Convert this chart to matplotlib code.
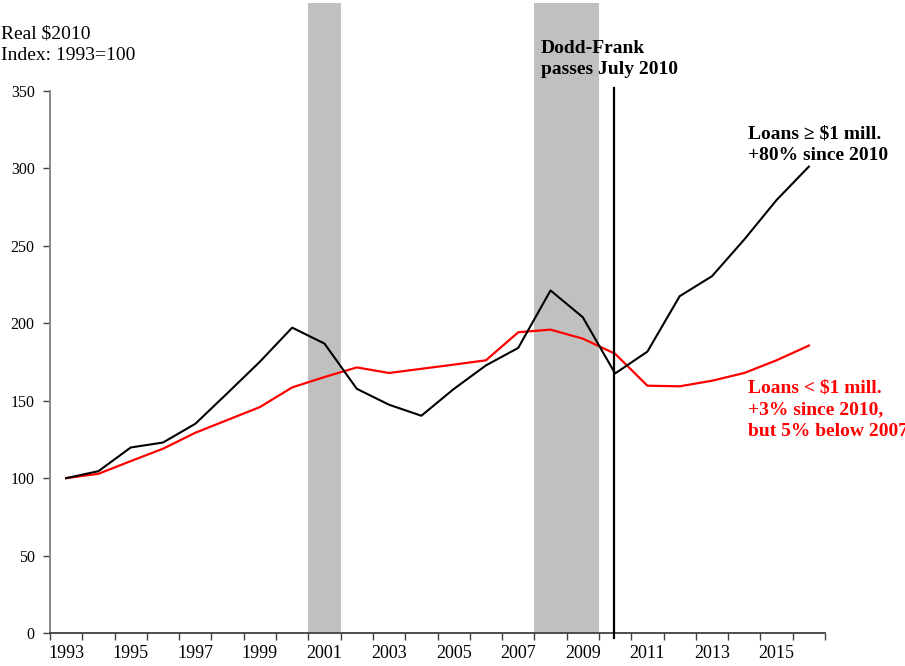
import matplotlib
matplotlib.use("Agg")
import matplotlib.pyplot as plt
import numpy as np

plt.rcParams['font.family'] = ['Liberation Serif', 'DejaVu Serif']

years = list(range(1993, 2017))
loans_large = [100, 104.5, 119.8, 123.0, 135.1, 155.0, 175.2, 197.2, 186.9, 157.7,
               147.4, 140.3, 157.5, 172.8, 184.1, 221.2, 203.9, 167.6, 181.7, 217.5,
               230.4, 254.1, 279.6, 301.2]
loans_small = [100, 102.8, 111.0, 119.0, 129.3, 137.6, 145.9, 158.6, 165.3, 171.5,
               167.9, 170.6, 173.3, 176.1, 194.2, 195.9, 190.1, 180.3, 159.7, 159.3,
               162.9, 167.9, 176.1, 185.6]
recessions = [(2000.5, 2001.5), (2007.5, 2009.5)]
dodd_frank_x = 2009.96
tick_label_years = list(range(1993, 2016, 2))
y_ticks = [0, 50, 100, 150, 200, 250, 300, 350]

W, H = 905, 666
fig = plt.figure(figsize=(W / 100, H / 100), dpi=100)
ax = fig.add_axes([50 / W, 1 - 633 / H, (825 - 50) / W, (633 - 91) / H])

for x0, x1 in recessions:
    ax.axvspan(x0, x1, ymin=0, ymax=1.162, color='#C0C0C0', lw=0, clip_on=False, zorder=1)

ax.axvline(dodd_frank_x, ymin=-0.009, ymax=1.006, color='black', lw=1.6, clip_on=False, zorder=4)

ax.plot(years, loans_small, color='#FF0000', lw=1.6, zorder=3)
ax.plot(years, loans_large, color='black', lw=1.5, zorder=3)

ax.set_xlim(1992.5, 2016.5)
ax.set_ylim(0, 350)

ax.set_xticks(np.arange(1992.5, 2017, 1.0))
ax.set_xticklabels([])
ax.set_xticks(tick_label_years, minor=True)
ax.set_xticklabels([str(y) for y in tick_label_years], minor=True, fontsize=13)
ax.tick_params(axis='x', which='major', direction='out', length=5, width=1, color='#404040')
ax.tick_params(axis='x', which='minor', length=0, pad=9)

ax.set_yticks(y_ticks)
ax.set_yticklabels([str(v) for v in y_ticks], fontsize=11.5)
ax.tick_params(axis='y', direction='out', length=5, width=1, color='#404040', pad=6)

for s in ['top', 'right']:
    ax.spines[s].set_visible(False)
for s in ['left', 'bottom']:
    ax.spines[s].set_color('#808080')
    ax.spines[s].set_linewidth(1.3)
ax.spines['bottom'].set_color('#404040')


def line_text(x_px, base_px, s, **kw):
    fig.text(x_px / W, 1 - base_px / H, s, va='baseline', ha='left', **kw)


line_text(1, 38, "Real $2010", fontsize=14)
line_text(1, 60, "Index: 1993=100", fontsize=14)

line_text(541, 53, "Dodd-Frank", fontsize=14, fontweight='bold')
line_text(541, 74.5, "passes July 2010", fontsize=14, fontweight='bold')

line_text(748, 138.5, "Loans \u2265 $1 mill.", fontsize=14, fontweight='bold')
line_text(748, 160.5, "+80% since 2010", fontsize=14, fontweight='bold')

line_text(748, 392.5, "Loans < $1 mill.", fontsize=14, fontweight='bold', color='#FF0000')
line_text(748, 414.5, "+3% since 2010,", fontsize=14, fontweight='bold', color='#FF0000')
line_text(748, 436.5, "but 5% below 2007", fontsize=14, fontweight='bold', color='#FF0000')

fig.savefig("out.png", dpi=100)
